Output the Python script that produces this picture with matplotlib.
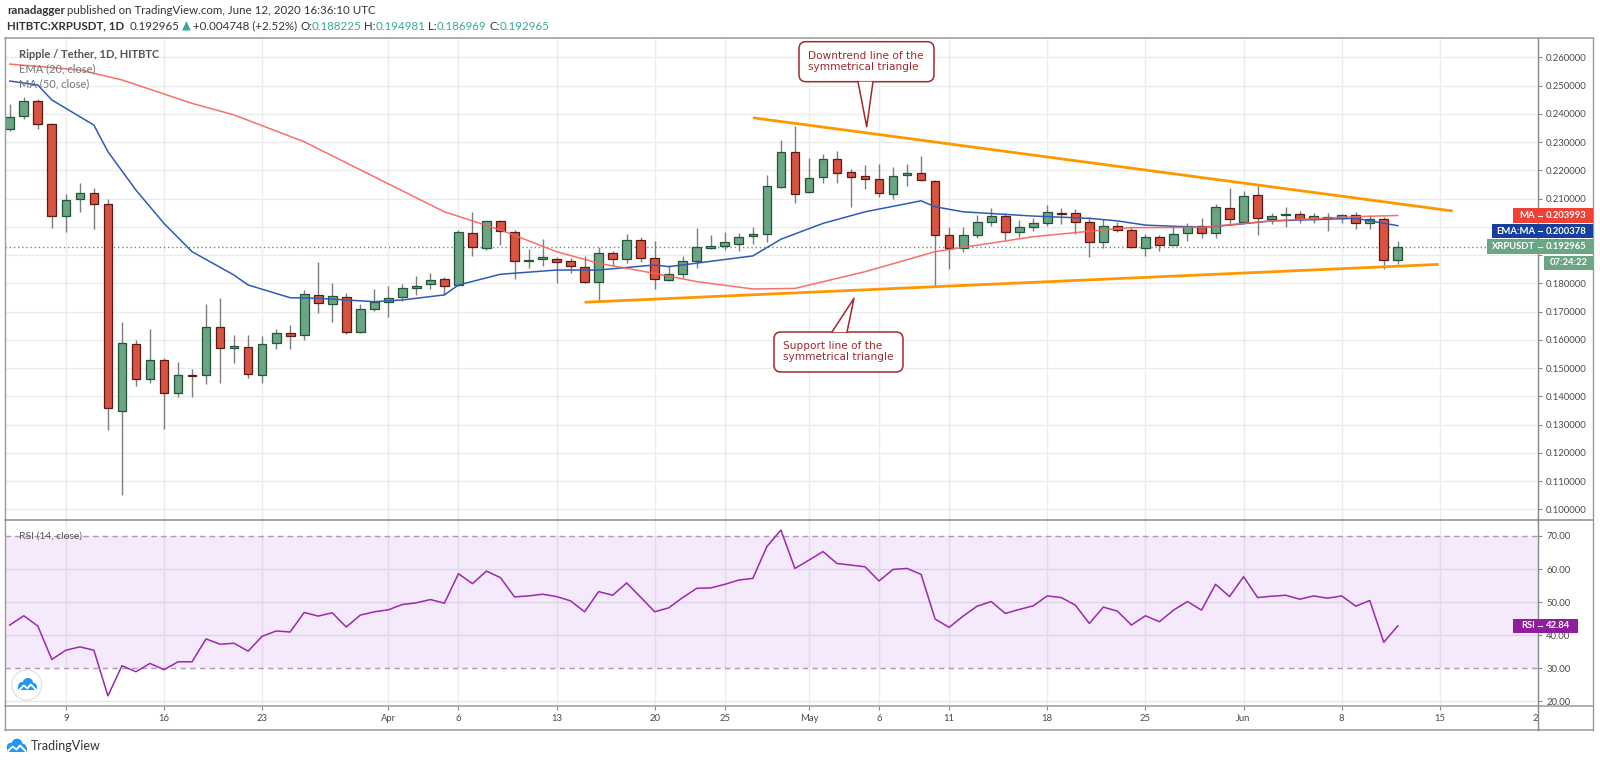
import matplotlib
matplotlib.use("Agg")
import matplotlib.pyplot as plt
import matplotlib.dates as mdates
import matplotlib.patches as mpatches
from matplotlib.lines import Line2D
from matplotlib.transforms import Affine2D
import numpy as np
import pandas as pd

# ─── DATA ─────────────────────────────────────────────────────────────────────

dates = pd.date_range("2020-03-05", "2020-06-12", freq="D")

opens = [0.2345, 0.2391, 0.2446, 0.2363, 0.2039, 0.2097, 0.2119, 0.2080, 0.1348, 0.1585,
         0.1460, 0.1529, 0.1413, 0.1476, 0.1474, 0.1646, 0.1570, 0.1576, 0.1474, 0.1588,
         0.1623, 0.1618, 0.1760, 0.1726, 0.1753, 0.1627, 0.1709, 0.1735, 0.1753, 0.1782,
         0.1797, 0.1815, 0.1794, 0.1979, 0.1926, 0.2020, 0.1981, 0.1878, 0.1886, 0.1886,
         0.1879, 0.1857, 0.1804, 0.1908, 0.1885, 0.1953, 0.1888, 0.1812, 0.1833, 0.1880,
         0.1926, 0.1933, 0.1939, 0.1966, 0.1974, 0.2140, 0.2264, 0.2122, 0.2177, 0.2239,
         0.2194, 0.2179, 0.2168, 0.2115, 0.2184, 0.2189, 0.2162, 0.1972, 0.1925, 0.1972,
         0.2016, 0.2039, 0.1982, 0.1998, 0.2012, 0.2050, 0.2048, 0.2018, 0.1945, 0.2003,
         0.1988, 0.1925, 0.1963, 0.1937, 0.1979, 0.2004, 0.1977, 0.2067, 0.2018, 0.2112,
         0.2029, 0.2043, 0.2044, 0.2027, 0.2036, 0.2031, 0.2041, 0.2012, 0.2027, 0.188225]
highs = [0.2434, 0.2461, 0.2452, 0.2366, 0.2116, 0.2156, 0.2137, 0.2098, 0.1662, 0.1599,
         0.1638, 0.1535, 0.1520, 0.1496, 0.1727, 0.1748, 0.1617, 0.1617, 0.1615, 0.1637,
         0.1652, 0.1776, 0.1874, 0.1800, 0.1767, 0.1727, 0.1780, 0.1790, 0.1797, 0.1827,
         0.1835, 0.1821, 0.1989, 0.2052, 0.2021, 0.2024, 0.1989, 0.1921, 0.1956, 0.1892,
         0.1889, 0.1897, 0.1930, 0.1914, 0.1975, 0.1963, 0.1949, 0.1865, 0.1897, 0.1996,
         0.1971, 0.1981, 0.1977, 0.1999, 0.2182, 0.2307, 0.2358, 0.2243, 0.2258, 0.2268,
         0.2205, 0.2220, 0.2222, 0.2211, 0.2221, 0.2252, 0.2166, 0.2000, 0.2000, 0.2042,
         0.2066, 0.2049, 0.2024, 0.2030, 0.2077, 0.2066, 0.2062, 0.2034, 0.2028, 0.2018,
         0.1998, 0.1975, 0.1971, 0.2003, 0.2012, 0.2030, 0.2081, 0.2136, 0.2128, 0.2148,
         0.2050, 0.2071, 0.2057, 0.2048, 0.2050, 0.2045, 0.2054, 0.2042, 0.2036, 0.194981]
lows = [0.2340, 0.2381, 0.2347, 0.1995, 0.1981, 0.2053, 0.1991, 0.1281, 0.1051, 0.1437,
        0.1446, 0.1285, 0.1399, 0.1399, 0.1442, 0.1448, 0.1519, 0.1464, 0.1446, 0.1569,
        0.1566, 0.1599, 0.1694, 0.1664, 0.1621, 0.1625, 0.1703, 0.1682, 0.1738, 0.1759,
        0.1779, 0.1759, 0.1790, 0.1897, 0.1918, 0.1937, 0.1814, 0.1853, 0.1861, 0.1800,
        0.1835, 0.1800, 0.1738, 0.1861, 0.1871, 0.1876, 0.1781, 0.1809, 0.1818, 0.1855,
        0.1920, 0.1918, 0.1914, 0.1939, 0.1947, 0.2136, 0.2083, 0.2119, 0.2156, 0.2154,
        0.2069, 0.2133, 0.2104, 0.2097, 0.2144, 0.2163, 0.1794, 0.1850, 0.1912, 0.1959,
        0.2004, 0.1953, 0.1965, 0.1985, 0.2004, 0.2010, 0.1973, 0.1892, 0.1924, 0.1981,
        0.1924, 0.1898, 0.1914, 0.1936, 0.1950, 0.1961, 0.1959, 0.2007, 0.2015, 0.1971,
        0.2010, 0.1998, 0.2012, 0.2012, 0.1984, 0.2015, 0.1993, 0.1993, 0.1850, 0.186969]
closes = [0.2388, 0.2446, 0.2364, 0.2039, 0.2095, 0.2119, 0.2080, 0.1358, 0.1588, 0.1460,
          0.1529, 0.1411, 0.1474, 0.1473, 0.1646, 0.1570, 0.1579, 0.1479, 0.1585, 0.1623,
          0.1615, 0.1763, 0.1729, 0.1754, 0.1629, 0.1708, 0.1735, 0.1747, 0.1782, 0.1792,
          0.1812, 0.1792, 0.1983, 0.1927, 0.2020, 0.1985, 0.1879, 0.1884, 0.1893, 0.1874,
          0.1861, 0.1806, 0.1906, 0.1886, 0.1953, 0.1888, 0.1815, 0.1832, 0.1880, 0.1930,
          0.1932, 0.1945, 0.1963, 0.1974, 0.2144, 0.2264, 0.2115, 0.2172, 0.2239, 0.2192,
          0.2177, 0.2168, 0.2119, 0.2181, 0.2189, 0.2166, 0.1972, 0.1925, 0.1972, 0.2016,
          0.2038, 0.1983, 0.1998, 0.2012, 0.2051, 0.2046, 0.2018, 0.1945, 0.2003, 0.1989,
          0.1927, 0.1963, 0.1937, 0.1976, 0.2004, 0.1977, 0.2069, 0.2027, 0.2109, 0.2032,
          0.2038, 0.2047, 0.2029, 0.2038, 0.2030, 0.2041, 0.2012, 0.2027, 0.1882, 0.192965]

rsi = [43.1, 45.9, 42.8, 32.7, 35.5, 36.5, 35.5, 21.7, 30.8, 29.0,
       31.5, 29.6, 32.0, 32.0, 38.9, 37.3, 37.6, 35.2, 39.7, 41.3,
       41.0, 46.9, 45.8, 46.8, 42.5, 46.1, 47.1, 47.7, 49.3, 49.8,
       50.8, 49.7, 58.6, 55.6, 59.4, 57.4, 51.6, 51.9, 52.4, 51.7,
       50.4, 47.1, 53.2, 52.1, 55.8, 51.5, 47.1, 48.3, 51.4, 54.2,
       54.3, 55.4, 56.7, 57.2, 66.8, 71.8, 60.2, 62.7, 65.3, 61.7,
       61.2, 60.7, 56.4, 59.9, 60.2, 58.4, 44.9, 42.4, 45.8, 48.8,
       50.2, 46.6, 47.8, 48.9, 51.9, 51.4, 49.1, 43.6, 48.5, 47.3,
       43.1, 45.9, 44.1, 47.6, 50.2, 47.6, 55.4, 51.7, 57.7, 51.4,
       51.8, 52.1, 50.9, 51.9, 51.2, 51.9, 48.8, 50.5, 37.9, 42.84]

# EMA 20 (blue) and MA 50 (red), sampled at their corners
ema_day = [0, 2, 3, 6, 7, 9, 11, 13, 16, 17, 20, 22, 26, 28, 31, 32, 35, 39, 42,
           46, 47, 48, 53, 55, 58, 61, 65, 66, 68, 73, 77, 79, 81, 85, 87, 90, 96, 99]
ema_val = [0.2516, 0.2502, 0.2449, 0.2360, 0.2266, 0.2130, 0.2012, 0.1912, 0.1829,
           0.1794, 0.1749, 0.1747, 0.1735, 0.1741, 0.1759, 0.1794, 0.1832, 0.1847,
           0.1847, 0.1865, 0.1859, 0.1865, 0.1897, 0.1956, 0.2012, 0.2053, 0.2092,
           0.2071, 0.2053, 0.2038, 0.2030, 0.2021, 0.2006, 0.1998, 0.2006, 0.2021,
           0.2030, 0.2004]
ma_day = [0, 5, 8, 13, 16, 21, 26, 31, 35, 39, 42, 46, 49, 53, 56, 61, 66, 73, 78,
          80, 85, 90, 96, 99]
ma_val = [0.2576, 0.2555, 0.2520, 0.2437, 0.2396, 0.2301, 0.2177, 0.2053, 0.1989,
          0.1912, 0.1871, 0.1835, 0.1806, 0.1780, 0.1782, 0.1841, 0.1912, 0.1965,
          0.1989, 0.1997, 0.1998, 0.2021, 0.2036, 0.2040]

# symmetrical triangle
down_x = ["2020-04-27 00:00", "2020-06-15 22:00"]
down_y = [0.2386, 0.2056]
sup_x = ["2020-04-15 00:00", "2020-06-14 22:00"]
sup_y = [0.1733, 0.1867]

tick_dates = ["2020-03-09", "2020-03-16", "2020-03-23", "2020-04-01", "2020-04-06",
              "2020-04-13", "2020-04-20", "2020-04-25", "2020-05-01", "2020-05-06",
              "2020-05-11", "2020-05-18", "2020-05-25", "2020-06-01", "2020-06-08",
              "2020-06-15", "2020-06-22"]
tick_labels = ["9", "16", "23", "Apr", "6", "13", "20", "25", "May", "6", "11", "18",
               "25", "Jun", "8", "15", "22"]
price_ticks = [0.10, 0.11, 0.12, 0.13, 0.14, 0.15, 0.16, 0.17, 0.18, 0.19, 0.20,
               0.21, 0.22, 0.23, 0.24, 0.25, 0.26]
# 0.19 and 0.20 sit under the last-value tags, so they show no label
hidden_ticks = [0.19, 0.20]
rsi_ticks = [20, 30, 40, 50, 60, 70]

last_ma, last_ema, last_close, last_rsi = 0.203993, 0.200378, 0.192965, 42.84

# ─── STYLE ────────────────────────────────────────────────────────────────────

W, H = 1600, 763
FONT = "Lato"
DARK = "#333333"
TEAL = "#3aa899"
GRID = "#ececec"
FRAME = "#9a9a9a"
UP, UP_EDGE = "#6ba583", "#225437"
DN, DN_EDGE = "#d75442", "#5b1a13"
WICK = "#7d7d7d"
EMA_CLR = "#2e5bb8"
MA_CLR = "#f7625a"
ORANGE = "#ff9800"
CALLOUT = "#a4282c"
RSI_CLR = "#9c27b0"
LBL = "#4a4a4a"

plt.rcParams["font.family"] = [FONT, "DejaVu Sans"]

fig = plt.figure(figsize=(W / 100, H / 100), dpi=100)
fig.patch.set_facecolor("white")
# pixel coordinates measured from the top-left corner
PX = Affine2D().scale(1 / W, -1 / H).translate(0, 1) + fig.transFigure


def axes_px(x0, y0, x1, y1):
    return fig.add_axes([x0 / W, 1 - y1 / H, (x1 - x0) / W, (y1 - y0) / H])


ax_p = axes_px(5, 38, 1538, 520)
ax_r = axes_px(5, 520, 1538, 706)

xnum = mdates.date2num(dates)
x0 = xnum[0]
xlim = (x0 - 0.34, x0 + 108.77)
ticks_num = mdates.date2num(pd.to_datetime(tick_dates))

for ax in (ax_p, ax_r):
    ax.set_xlim(*xlim)
    for s in ax.spines.values():
        s.set_visible(False)
    ax.set_xticks(ticks_num)
    ax.grid(axis="x", color=GRID, lw=1)
    ax.set_axisbelow(True)
    ax.yaxis.tick_right()

# ── PRICE PANE ────────────────────────────────────────────────────────────────
ax_p.set_ylim(0.09622, 0.26683)
ax_p.set_yticks(price_ticks, ["" if v in hidden_ticks else f"{v:.6f}" for v in price_ticks])
ax_p.grid(axis="y", color=GRID, lw=1)
ax_p.tick_params(axis="x", length=0, labelbottom=False)
ax_p.tick_params(axis="y", length=2.9, color="#888888", pad=3, labelsize=6.8,
                 labelcolor=LBL)

o = np.array(opens)
c = np.array(closes)
up = c >= o
ax_p.vlines(xnum, lows, highs, color=WICK, lw=1, zorder=3)
ax_p.bar(xnum[up], (c - o)[up], bottom=o[up], width=0.62, color=UP,
         edgecolor=UP_EDGE, lw=0.9, zorder=4)
ax_p.bar(xnum[~up], (o - c)[~up], bottom=c[~up], width=0.62, color=DN,
         edgecolor=DN_EDGE, lw=0.9, zorder=4)

ax_p.plot(xnum[ema_day], ema_val, color=EMA_CLR, lw=1.1, zorder=5)
ax_p.plot(xnum[ma_day], ma_val, color=MA_CLR, lw=1.1, alpha=0.9, zorder=5)
ax_p.axhline(last_close, color="#4c9e72", lw=1, ls=(0, (1, 2)), zorder=2)

ax_p.plot(mdates.date2num(pd.to_datetime(down_x)), down_y, color=ORANGE, lw=2,
          zorder=6, solid_capstyle="butt")
ax_p.plot(mdates.date2num(pd.to_datetime(sup_x)), sup_y, color=ORANGE, lw=2,
          zorder=6, solid_capstyle="butt")

ax_p.text(13.6 / 1533, 1 - 16 / 482, "Ripple / Tether, 1D, HITBTC", transform=ax_p.transAxes,
          fontsize=8, fontweight="bold", color="#555555", va="center", zorder=10)
ax_p.text(13.6 / 1533, 1 - 31 / 482, "EMA (20, close)", transform=ax_p.transAxes,
          fontsize=8, color="#777777", va="center", zorder=10)
ax_p.text(13.6 / 1533, 1 - 46 / 482, "MA (50, close)", transform=ax_p.transAxes,
          fontsize=8, color="#777777", va="center", zorder=10)

# ── RSI PANE ──────────────────────────────────────────────────────────────────
ax_r.set_ylim(18.64, 74.83)
ax_r.set_yticks(rsi_ticks, [f"{v:.2f}" for v in rsi_ticks])
ax_r.set_xticks(ticks_num, tick_labels)
ax_r.tick_params(axis="x", length=2.9, color="#888888", pad=3, labelsize=6.8,
                 labelcolor=LBL)
ax_r.tick_params(axis="y", length=2.9, color="#888888", pad=3, labelsize=6.8,
                 labelcolor=LBL)
for v in (20, 40, 50, 60):
    ax_r.axhline(v, color="#e6e6e6", lw=1, zorder=0.5)
ax_r.axhspan(30, 70, color="#9b26e6", alpha=0.095, lw=0, zorder=1)
for v in (30, 70):
    ax_r.axhline(v, color="#ad98b6", lw=1, ls=(0, (4, 3)), zorder=2)
ax_r.plot(xnum, rsi, color=RSI_CLR, lw=1.1, zorder=4)
ax_r.text(14 / 1533, 70, "RSI (14, close)", transform=ax_r.get_yaxis_transform(),
          fontsize=7.5, color="#555555", va="center", zorder=10)

# ── FRAME LINES ───────────────────────────────────────────────────────────────
for y, clr in ((38, FRAME), (520, "#8a8a8a"), (706, FRAME), (730, FRAME)):
    fig.add_artist(Line2D([5, 1593], [y, y], transform=PX, color=clr, lw=1.1, zorder=4))
for x, clr in ((5, FRAME), (1538, "#8a8a8a"), (1593, FRAME)):
    fig.add_artist(Line2D([x, x], [38, 730], transform=PX, color=clr, lw=1, zorder=4))
# hide the right half of the "22" date label under the price-scale column
fig.add_artist(mpatches.Rectangle((1538.7, 707), 54, 22.5, transform=PX,
                                  fc="white", ec="none", zorder=3.5))

# ── LAST-VALUE LABELS ─────────────────────────────────────────────────────────
def value_tag(x_lbl, yc, label, value, clr, h=14.5, right=1593):
    if label:
        fig.add_artist(mpatches.Rectangle((x_lbl, yc - h / 2), 1538 - x_lbl, h,
                                          transform=PX, fc=clr, ec="none", zorder=6))
        fig.text(1535, yc, label, transform=PX, color="white", fontsize=6.8,
                 fontweight="bold", ha="right", va="center", zorder=7)
    fig.add_artist(mpatches.Rectangle((1538, yc - h / 2), right - 1538, h,
                                      transform=PX, fc=clr, ec="none", zorder=6))
    fig.add_artist(Line2D([1538, 1542], [yc, yc], transform=PX, color="white",
                          lw=0.8, zorder=7))
    fig.text(1546, yc, value, transform=PX, color="white", fontsize=6.8,
             fontweight="bold", ha="left", va="center", zorder=7)


value_tag(1513, 215.5, "MA", f"{last_ma:.6f}", "#ef4136")
value_tag(1492, 231, "EMA:MA", f"{last_ema:.6f}", "#173f9e")
value_tag(1487, 246.5, "XRPUSDT", f"{last_close:.6f}", "#6aa584")
fig.add_artist(mpatches.Rectangle((1544, 256), 49, 13.5, transform=PX,
                                  fc="#6aa584", ec="none", zorder=6))
fig.text(1568.5, 262.7, "07:24:22", transform=PX, color="white", fontsize=6.8,
         fontweight="bold", ha="center", va="center", zorder=7)
value_tag(1513, 625.8, "RSI", f"{last_rsi:.2f}", "#8f1d9e", right=1578)

# ── CALLOUTS ──────────────────────────────────────────────────────────────────
def callout(box, base, tip, lines, text_xy):
    bx0, by0, bx1, by1 = box
    fig.add_artist(mpatches.FancyBboxPatch(
        (bx0, by0), bx1 - bx0, by1 - by0, boxstyle="round,pad=0,rounding_size=7",
        transform=PX, fc="white", ec=CALLOUT, lw=1.1, zorder=8))
    (ax0, ay), (ax1, _) = base
    fig.add_artist(mpatches.Polygon([(ax0, ay), tip, (ax1, ay)], closed=True,
                                    transform=PX, fc="white", ec="none", zorder=9))
    fig.add_artist(Line2D([ax0, tip[0], ax1], [ay, tip[1], ay], transform=PX,
                          color=CALLOUT, lw=1.1, zorder=9))
    tx, ty = text_xy
    for k, s in enumerate(lines):
        fig.text(tx, ty + k * 10.7, s, transform=PX, color=CALLOUT, fontsize=7.6,
                 family="DejaVu Sans", ha="left", va="center", zorder=10)


callout((799, 41.7, 934, 81.7), [(858, 81.7), (873, 81.7)], (866.7, 126.7),
        ["Downtrend line of the", "symmetrical triangle"], (808, 56))
callout((774, 332, 903, 372), [(832, 332), (847, 332)], (854, 298.3),
        ["Support line of the", "symmetrical triangle"], (783, 346))

# ── HEADER ────────────────────────────────────────────────────────────────────
renderer = fig.canvas.get_renderer()


def chain(x, y, parts, size):
    for s, clr, weight, gap in parts:
        x += gap
        t = fig.text(x, y, s, transform=PX, color=clr, fontweight=weight,
                     fontsize=size, ha="left", va="center")
        bb = t.get_window_extent(renderer=renderer)
        x = bb.x1


SP = 2.6
chain(7, 11, [("ranadagger", DARK, "bold", 0),
              ("published on TradingView.com, June 12, 2020 16:36:10 UTC", DARK, "normal", SP)],
      8.3)
chain(7, 26, [("HITBTC:XRPUSDT, 1D", DARK, "bold", 0),
              ("0.192965", DARK, "normal", SP * 2),
              ("▲", TEAL, "normal", SP),
              ("+0.004748 (+2.52%)", DARK, "normal", SP),
              ("O:", DARK, "normal", SP), ("0.188225", TEAL, "normal", 0),
              ("H:", DARK, "normal", SP), ("0.194981", TEAL, "normal", 0),
              ("L:", DARK, "normal", SP), ("0.186969", TEAL, "normal", 0),
              ("C:", DARK, "normal", SP), ("0.192965", TEAL, "normal", 0)],
      8.3)

# ── TRADINGVIEW LOGOS ─────────────────────────────────────────────────────────
def tv_logo(cx, cy, s, clr="#2196f3"):
    for dx, dy, r in ((-5, 1, 4.2), (1, -2, 5.4), (6.5, 1.5, 3.8)):
        fig.add_artist(mpatches.Circle((cx + dx * s, cy + dy * s), r * s, transform=PX,
                                       fc=clr, ec="none", zorder=11))
    fig.add_artist(mpatches.Rectangle((cx - 9 * s, cy + 1 * s), 19.5 * s, 4.5 * s,
                                      transform=PX, fc=clr, ec="none", zorder=11))
    fig.add_artist(Line2D([cx - 8 * s, cx - 3.5 * s, cx + 0.5 * s, cx + 4 * s, cx + 9.5 * s],
                          [cy + 5 * s, cy + 0.5 * s, cy + 3.5 * s, cy - 0.5 * s, cy + 5 * s],
                          transform=PX, color="white", lw=1.4 * s, zorder=12))


fig.add_artist(mpatches.Circle((26.7, 685), 15, transform=PX, fc="white",
                               ec="#e4e4e4", lw=1, zorder=10))
tv_logo(27, 685, 0.95)
tv_logo(16, 746, 1.0)
fig.text(31, 746.5, "TradingView", transform=PX, color=DARK, fontsize=9,
         ha="left", va="center")

fig.savefig("out.png", dpi=100, facecolor="white")
